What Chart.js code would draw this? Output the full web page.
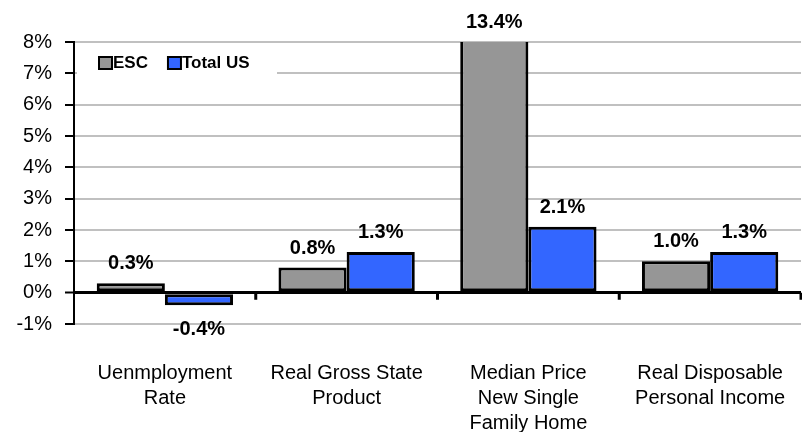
<!DOCTYPE html>
<html>
<head>
<meta charset="utf-8">
<script src="https://cdn.jsdelivr.net/npm/chart.js@4"></script>
<style>body{margin:0;background:#fff}</style>
</head>
<body>
<canvas id="chart" width="802" height="432"></canvas>
<script>
// chart values
const categories = [
  ['Uenmployment', 'Rate'],
  ['Real Gross State', 'Product'],
  ['Median Price', 'New Single', 'Family Home'],
  ['Real Disposable', 'Personal Income']
];
const seriesNames = ['ESC', 'Total US'];
const escValues = [0.3, 0.8, 13.4, 1.0];
const usValues = [-0.4, 1.3, 2.1, 1.3];
const yMin = -1;
const yMax = 8;
const yStep = 1;

Chart.defaults.font.family = '"Liberation Sans", Arial, sans-serif';
Chart.defaults.color = '#000';

// data labels, legend box and the little ticks on the zero line
const extras = {
  id: 'extras',
  afterDatasetsDraw(chart) {
    const ctx = chart.ctx;
    const area = chart.chartArea;
    ctx.save();
    ctx.font = 'bold 20px "Liberation Sans", Arial, sans-serif';
    ctx.fillStyle = '#000';
    ctx.textAlign = 'center';
    chart.data.datasets.forEach((ds, di) => {
      chart.getDatasetMeta(di).data.forEach((bar, i) => {
        const v = ds.data[i];
        const txt = v.toFixed(1) + '%';
        if (v >= 0) {
          ctx.textBaseline = 'alphabetic';
          ctx.fillText(txt, bar.x, Math.max(bar.y, area.top) - 14);
        } else {
          ctx.textBaseline = 'top';
          ctx.fillText(txt, bar.x, bar.y + 14);
        }
      });
    });

    // zero line ticks between categories
    const x = chart.scales.x;
    const y0 = chart.scales.y.getPixelForValue(0);
    const half = (x.getPixelForValue(1) - x.getPixelForValue(0)) / 2;
    ctx.strokeStyle = '#000';
    ctx.lineWidth = 3;
    ctx.beginPath();
    categories.forEach((c, i) => {
      const px = x.getPixelForValue(i) + half;
      ctx.moveTo(px, y0);
      ctx.lineTo(px, y0 + 7);
    });
    ctx.stroke();
    ctx.restore();
  },
  afterDraw(chart) {
    const ctx = chart.ctx;
    const area = chart.chartArea;
    ctx.save();
    const bx = area.left + 3;
    const by = area.top + 2;
    ctx.fillStyle = '#fff';
    ctx.fillRect(bx, by, 200, 30);
    ctx.font = 'bold 17px "Liberation Sans", Arial, sans-serif';
    ctx.textBaseline = 'middle';
    ctx.textAlign = 'left';
    let lx = bx + 22;
    const ly = by + 19;
    chart.data.datasets.forEach(ds => {
      ctx.fillStyle = ds.backgroundColor;
      ctx.fillRect(lx, ly - 6, 13, 12);
      ctx.strokeStyle = '#000';
      ctx.lineWidth = 2;
      ctx.strokeRect(lx, ly - 6, 13, 12);
      ctx.fillStyle = '#000';
      ctx.fillText(ds.label, lx + 14, ly);
      lx += 14 + ctx.measureText(ds.label).width + 20;
    });
    ctx.restore();
  }
};

new Chart(document.getElementById('chart'), {
  type: 'bar',
  data: {
    labels: categories,
    datasets: [{
      label: seriesNames[0],
      data: escValues,
      backgroundColor: '#969696',
      borderColor: '#000',
      borderWidth: 3,
      borderSkipped: false,
      inflateAmount: 0
    }, {
      label: seriesNames[1],
      data: usValues,
      backgroundColor: '#3366ff',
      borderColor: '#000',
      borderWidth: 3,
      borderSkipped: false,
      inflateAmount: 0
    }]
  },
  options: {
    responsive: false,
    animation: false,
    layout: { padding: { top: 42, right: 1, left: 0, bottom: 0 } },
    datasets: {
      bar: { categoryPercentage: 0.75, barPercentage: 1.0 }
    },
    plugins: {
      legend: { display: false },
      tooltip: { enabled: false }
    },
    scales: {
      x: {
        grid: { display: false, drawTicks: false },
        border: { display: false },
        ticks: {
          padding: 37,
          maxRotation: 0,
          autoSkip: false,
          font: { size: 20, lineHeight: 1.25 }
        },
        afterFit(scale) {
          scale.height = 108;
          scale.paddingLeft = 0;
          scale.paddingRight = 0;
        }
      },
      y: {
        min: yMin,
        max: yMax,
        ticks: {
          stepSize: yStep,
          padding: 13,
          font: { size: 20 },
          callback: v => v + '%'
        },
        grid: {
          color: c => (c.tick && c.tick.value === 0) ? '#000' : '#c0c0c0',
          lineWidth: c => (c.tick && c.tick.value === 0) ? 3 : 2,
          tickColor: '#000',
          tickLength: 9,
          tickWidth: 2
        },
        border: { color: '#000', width: 2 },
        afterFit(scale) { scale.width = 74; }
      }
    }
  },
  plugins: [extras]
});
</script>
</body>
</html>
